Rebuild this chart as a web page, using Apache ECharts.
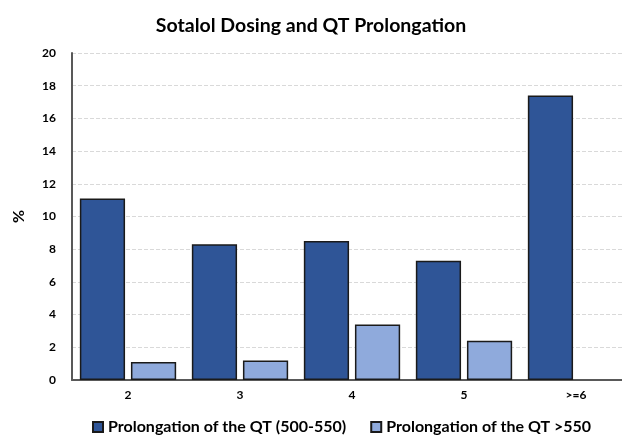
<!DOCTYPE html>
<html>
<head>
<meta charset="utf-8">
<script src="https://cdn.jsdelivr.net/npm/echarts@6/dist/echarts.min.js"></script>
<style>
  html, body { margin: 0; padding: 0; background: #fff; }
  #main { width: 622px; height: 435px; }
</style>
</head>
<body>
<div id="main"></div>
<script>
// 剂量分组
var categories = ['2', '3', '4', '5', '>=6'];
var seriesNames = ['Prolongation of the QT (500-550)', 'Prolongation of the QT >550'];
var qt500_550 = [11.1, 8.3, 8.5, 7.3, 17.4];
var qtOver550 = [1.1, 1.2, 3.4, 2.4, null];

var font = 'Lato, "Open Sans", sans-serif';

var myChart = echarts.init(document.getElementById('main'));
var option = {
    animation: false,
    title: {
        text: 'Sotalol Dosing and QT Prolongation',
        left: 'center',
        top: 11,
        textStyle: { fontFamily: font, fontWeight: 'bold', fontSize: 19.5, color: '#000' }
    },
    legend: {
        top: 414,
        left: 87,
        itemWidth: 10,
        itemHeight: 10,
        itemGap: 24,
        icon: 'rect',
        textStyle: { fontFamily: font, fontWeight: 'bold', fontSize: 16, color: '#000' },
        data: seriesNames
    },
    // 右边超出画布，原图被裁掉了一截
    grid: { left: 72, right: -10, top: 53, bottom: 55, outerBoundsMode: 'none' },
    xAxis: {
        type: 'category',
        data: categories,
        axisLine: { lineStyle: { color: '#595959', width: 2 } },
        axisTick: { show: false },
        axisLabel: { fontFamily: font, fontWeight: 'bold', fontSize: 12, color: '#000', margin: 9 }
    },
    yAxis: {
        type: 'value',
        min: 0,
        max: 20,
        interval: 2,
        name: '%',
        nameLocation: 'middle',
        nameGap: 45,
        nameRotate: 90,
        nameTextStyle: { fontFamily: font, fontWeight: 'bold', fontSize: 16, color: '#000' },
        axisLine: { show: true, lineStyle: { color: '#595959', width: 2 } },
        axisTick: { show: false },
        axisLabel: { fontFamily: font, fontWeight: 'bold', fontSize: 12, color: '#000', margin: 16 },
        splitLine: { lineStyle: { color: '#d9d9d9', type: 'dashed', width: 1 } }
    },
    series: [
        {
            name: seriesNames[0],
            type: 'bar',
            data: qt500_550,
            barGap: '13%',
            barCategoryGap: '14%',
            itemStyle: { color: '#2F5597', borderColor: '#1a1a1a', borderWidth: 1.5 }
        },
        {
            name: seriesNames[1],
            type: 'bar',
            data: qtOver550,
            itemStyle: { color: '#8FAADC', borderColor: '#1a1a1a', borderWidth: 1.5 }
        }
    ]
};
myChart.setOption(option);
</script>
</body>
</html>
